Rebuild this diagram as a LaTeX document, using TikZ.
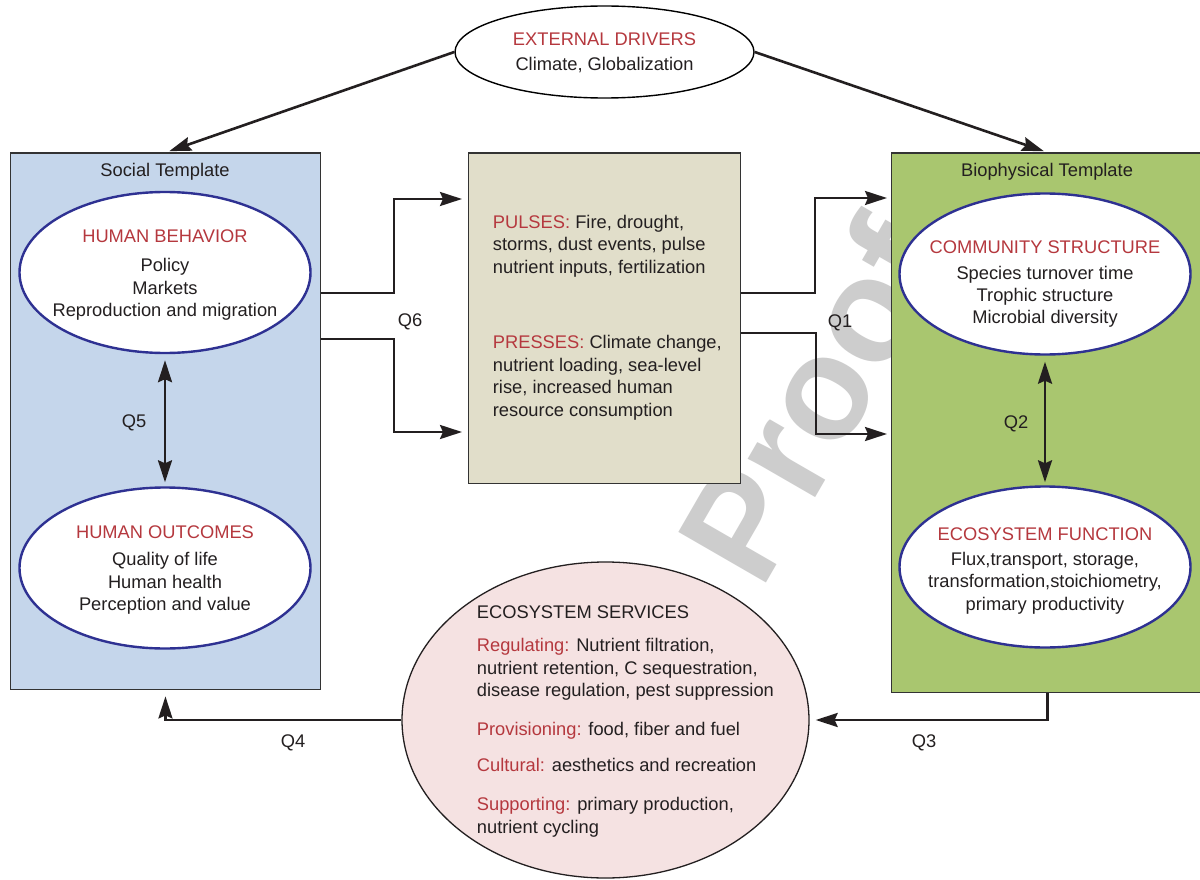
\documentclass[tikz,border=0pt]{standalone}
\usepackage{fontspec}
\setmainfont{Liberation Sans}
\usetikzlibrary{arrows.meta,shapes.geometric}
\definecolor{ink}{HTML}{231F20}
\definecolor{kred}{HTML}{B5383E}
\definecolor{socfill}{HTML}{C5D6EB}
\definecolor{tanfill}{HTML}{E1DECA}
\definecolor{biofill}{HTML}{A9C66F}
\definecolor{pinkfill}{HTML}{F5E2E2}
\definecolor{eblue}{HTML}{2E3192}
\definecolor{boxline}{HTML}{333333}
\definecolor{wmark}{HTML}{CDCDCD}
\newcommand{\kw}[1]{\textcolor{kred}{#1}}
\begin{document}
\begin{tikzpicture}[x=1pt,y=-1pt,
  txt/.style={inner sep=0pt, anchor=base, text=ink, font=\fontsize{18.3}{22}\selectfont},
  txtl/.style={txt, anchor=base west},
  tpl/.style={draw=boxline, line width=1.4pt, inner sep=0pt, anchor=north west},
  inner/.style={ellipse, draw=eblue, line width=2.4pt, fill=white, inner sep=0pt, minimum width=291, minimum height=161},
  conn/.style={line width=2.6pt, draw=ink, -{Stealth[length=22pt,width=14pt,inset=3pt]}},
  dbl/.style={line width=2.6pt, draw=ink, {Stealth[length=22pt,width=14pt,inset=3pt]}-{Stealth[length=22pt,width=14pt,inset=3pt]}}
]
\useasboundingbox (0,0) rectangle (1200,880);
\fill[white] (0,0) rectangle (1200,880);

% watermark
\node[rotate=60, text=wmark, font=\fontsize{147}{147}\selectfont\bfseries, inner sep=0pt] (wm) at (811.5,399) {Proof};

% templates
\node[tpl, fill=socfill, minimum width=310.5, minimum height=536.5] (soc) at (9.5,152.5) {};
\node[tpl, fill=tanfill, minimum width=272, minimum height=330.5] (tan) at (468,152.5) {};
\node[tpl, fill=biofill, minimum width=312, minimum height=539] (bio) at (891,152.5) {};
\node[txt] (soct) at (165,177) {Social Template};
\node[txt] (biot) at (1047,176) {Biophysical Template};

% external drivers
\node[ellipse, draw=black, line width=1.4pt, fill=white, inner sep=0pt, minimum width=299, minimum height=92] (ed) at (604.5,52) {};
\node[txt] (ed1) at (604.5,46) {\kw{EXTERNAL DRIVERS}};
\node[txt] (ed2) at (604.5,71) {Climate, Globalization};

% social ellipses
\node[inner] (hb) at (165,272.5) {};
\node[txt] (hb1) at (165,242) {\kw{HUMAN BEHAVIOR}};
\node[txt] (hb2) at (165,271) {Policy};
\node[txt] (hb3) at (165,294) {Markets};
\node[txt] (hb4) at (165,316) {Reproduction and migration};

\node[inner] (ho) at (165,568) {};
\node[txt] (ho1) at (165,538) {\kw{HUMAN OUTCOMES}};
\node[txt] (ho2) at (165,565) {Quality of life};
\node[txt] (ho3) at (165,588) {Human health};
\node[txt] (ho4) at (165,610) {Perception and value};

% biophysical ellipses
\node[inner] (cs) at (1045,274) {};
\node[txt] (cs1) at (1045,253) {\kw{COMMUNITY STRUCTURE}};
\node[txt] (cs2) at (1045,279) {Species turnover time};
\node[txt] (cs3) at (1045,301) {Trophic structure};
\node[txt] (cs4) at (1045,323) {Microbial diversity};

\node[inner] (ef) at (1045,567) {};
\node[txt] (ef1) at (1045,540) {\kw{ECOSYSTEM FUNCTION}};
\node[txt] (ef2) at (1045,565) {Flux,transport, storage,};
\node[txt] (ef3) at (1045,587) {transformation,stoichiometry,};
\node[txt] (ef4) at (1045,610) {primary productivity};

% pulses / presses
\node[txtl] (p1) at (492.7,228) {\kw{PULSES:} Fire, drought,};
\node[txtl] (p2) at (492.7,250.5) {storms, dust events, pulse};
\node[txtl] (p3) at (492.7,273) {nutrient inputs, fertilization};
\node[txtl] (r1) at (492.7,348) {\kw{PRESSES:} Climate change,};
\node[txtl] (r2) at (492.7,371) {nutrient loading, sea-level};
\node[txtl] (r3) at (492.7,393) {rise, increased human};
\node[txtl] (r4) at (492.7,416) {resource consumption};

% ecosystem services
\node[ellipse, draw=ink, line width=1.3pt, fill=pinkfill, inner sep=0pt, minimum width=407, minimum height=316] (es) at (605.5,720) {};
\node[txtl] (s0) at (476.7,618) {ECOSYSTEM SERVICES};
\node[txtl] (s1) at (476.7,651) {\kw{Regulating:} Nutrient filtration,};
\node[txtl] (s2) at (476.7,674) {nutrient retention, C sequestration,};
\node[txtl] (s3) at (476.7,696) {disease regulation, pest suppression};
\node[txtl] (s4) at (476.7,735) {\kw{Provisioning:} food, fiber and fuel};
\node[txtl] (s5) at (476.7,771) {\kw{Cultural:} aesthetics and recreation};
\node[txtl] (s6) at (476.7,810) {\kw{Supporting:} primary production,};
\node[txtl] (s7) at (476.7,833) {nutrient cycling};

% connectors
\draw[conn, shorten >=4pt] (ed.west) -- (soc.north);
\draw[conn, shorten >=4pt] (ed.east) -- (bio.north);

\draw[conn, shorten >=6pt] (soc.east |- 0,293) -- (394,293) -- (394,199) -- (tan.west |- 0,199);
\draw[conn, shorten >=6pt] (soc.east |- 0,339) -- (394,339) -- (394,432) -- (tan.west |- 0,432);

\draw[conn, shorten >=4pt] (tan.east |- 0,293) -- (815,293) -- (815,198) -- (bio.west |- 0,198);
\draw[conn, shorten >=4pt] (tan.east |- 0,333) -- (816,333) -- (816,434) -- (bio.west |- 0,434);

\draw[dbl, shorten <=6pt, shorten >=4pt] (hb.south) -- (ho.north);
\draw[dbl, shorten <=6pt, shorten >=3pt] (cs.south) -- (ef.north);

\draw[conn, shorten >=6pt] (bio.south) |- (es.east);
\draw[conn, shorten >=6pt] (es.west) -| (soc.south);

% labels
\node[txt] (q5) at (134,427) {Q5};
\node[txt] (q2) at (1016,428) {Q2};
\node[txt] (q6) at (410,326) {Q6};
\node[txt] (q1) at (840,327) {Q1};
\node[txt] (q3) at (924,747) {Q3};
\node[txt] (q4) at (293,747) {Q4};
\end{tikzpicture}
\end{document}
